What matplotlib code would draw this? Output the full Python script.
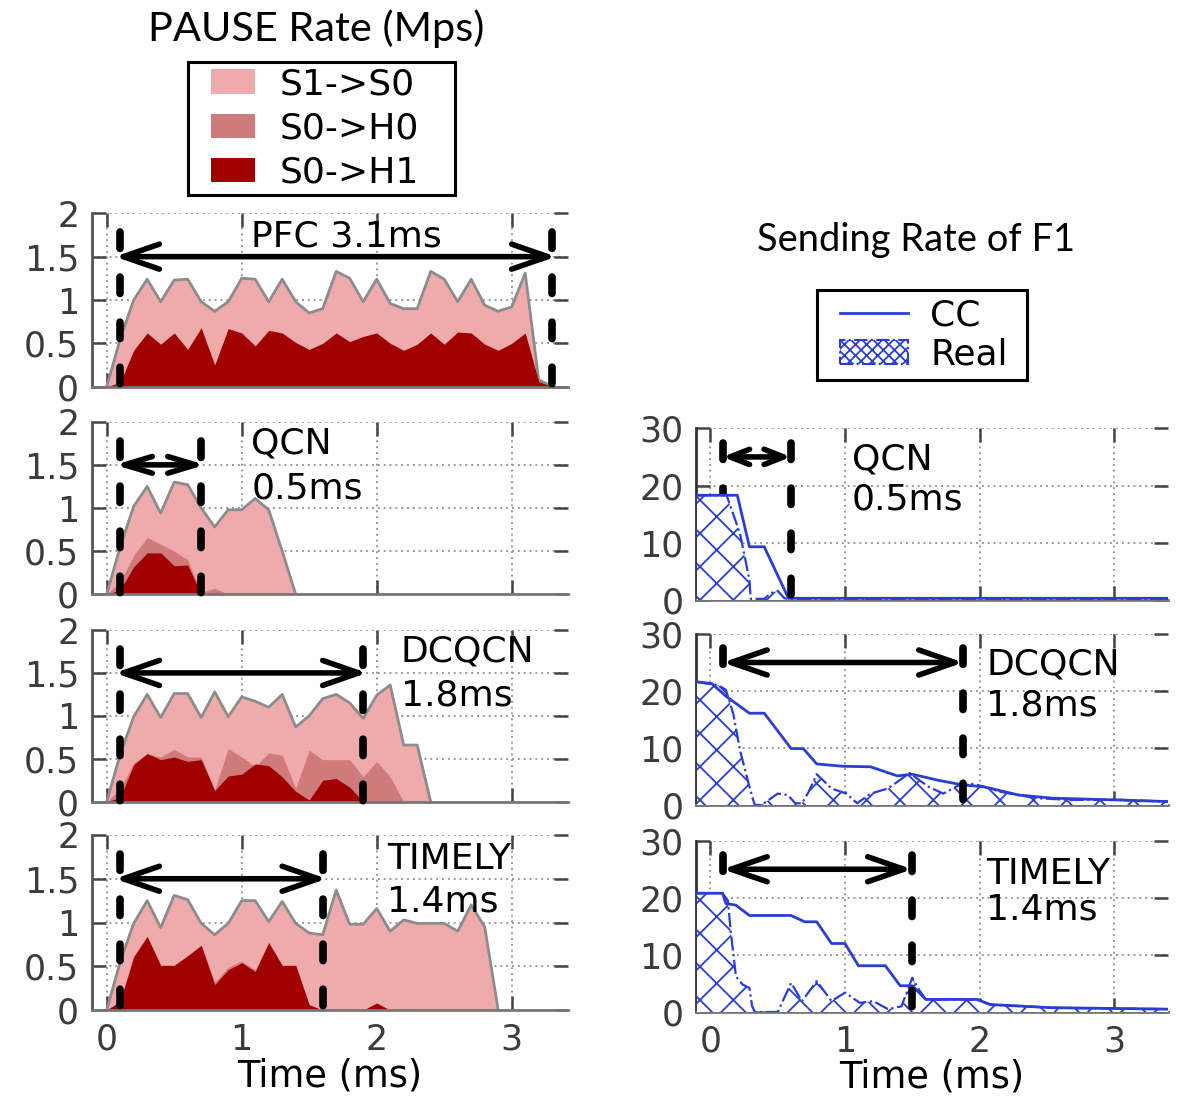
import matplotlib
matplotlib.use("Agg")
import matplotlib.pyplot as plt
from matplotlib.patches import Patch
from matplotlib.lines import Line2D

plt.rcParams['font.family'] = ['DejaVu Sans']
plt.rcParams['hatch.linewidth'] = 1.3

# ---------------- data: PAUSE rate (Mps), sampled every 0.1 ms ----------------
TIME = [0.0, 0.1, 0.2, 0.3, 0.4, 0.5, 0.6, 0.7, 0.8, 0.9,
        1.0, 1.1, 1.2, 1.3, 1.4, 1.5, 1.6, 1.7, 1.8, 1.9,
        2.0, 2.1, 2.2, 2.3, 2.4, 2.5, 2.6, 2.7, 2.8, 2.9,
        3.0, 3.1, 3.2, 3.3]

PFC_S1S0 = [0, 0.55, 1.0, 1.24, 0.98, 1.23, 1.24, 0.98, 0.87, 0.98,
            1.25, 1.24, 0.98, 1.24, 0.98, 0.85, 0.90, 1.33, 1.25, 0.98,
            1.24, 0.96, 0.90, 0.90, 1.33, 1.24, 0.98, 1.24, 0.94, 0.87,
            0.92, 1.31, 0.08, 0.0]
PFC_S0H0 = [0, 0, 0]
PFC_S0H1 = [0, 0.05, 0.42, 0.62, 0.49, 0.62, 0.43, 0.68, 0.25, 0.67,
            0.62, 0.47, 0.65, 0.62, 0.51, 0.43, 0.50, 0.62, 0.52, 0.58,
            0.62, 0.50, 0.42, 0.49, 0.62, 0.49, 0.63, 0.62, 0.49, 0.42,
            0.50, 0.62, 0.06, 0.0]

QCN_S1S0 = [0, 0.55, 1.02, 1.25, 0.94, 1.30, 1.27, 1.00, 0.78, 0.98,
            0.98, 1.11, 0.98, 0.50, 0.0]
QCN_S0H0 = [0, 0.15, 0.45, 0.66, 0.58, 0.50, 0.40, 0.02, 0.07, 0.0]
QCN_S0H1 = [0, 0.05, 0.32, 0.48, 0.48, 0.33, 0.34, 0.0]

DCQCN_S1S0 = [0, 0.55, 0.99, 1.25, 0.98, 1.26, 1.26, 0.98, 1.28, 0.99,
              1.22, 1.17, 1.10, 1.25, 0.87, 1.00, 1.20, 1.25, 1.15, 0.97,
              1.24, 1.36, 0.66, 0.66, 0.0]
DCQCN_S0H0 = [0, 0.15, 0.45, 0.56, 0.52, 0.61, 0.52, 0.52, 0.14, 0.62,
              0.52, 0.41, 0.57, 0.54, 0.16, 0.60, 0.49, 0.49, 0.49, 0.29,
              0.47, 0.29, 0.0]
DCQCN_S0H1 = [0, 0.05, 0.43, 0.56, 0.49, 0.52, 0.47, 0.49, 0.13, 0.30,
              0.32, 0.44, 0.42, 0.29, 0.12, 0.02, 0.25, 0.27, 0.17, 0.0]

TIMELY_S1S0 = [0, 0.55, 0.99, 1.25, 0.94, 1.31, 1.26, 0.99, 0.86, 0.99,
               1.25, 1.25, 1.01, 1.24, 0.99, 0.88, 0.86, 1.37, 0.98, 0.98,
               1.16, 0.90, 1.03, 0.99, 0.99, 0.99, 0.90, 1.20, 0.95, 0.0]
TIMELY_S0H0 = [0, 0.10, 0.61, 0.84, 0.51, 0.51, 0.62, 0.74, 0.32, 0.49,
               0.56, 0.46, 0.77, 0.51, 0.51, 0.06, 0.0]
TIMELY_S0H1 = [0, 0.10, 0.61, 0.84, 0.51, 0.51, 0.62, 0.74, 0.29, 0.46,
               0.54, 0.44, 0.77, 0.51, 0.51, 0.06, 0.0, 0.0, 0.0, 0.0,
               0.08, 0.0]

# pause durations (ms): start / end of the marked interval
PFC_SPAN = [0.1, 3.3]
QCN_SPAN = [0.1, 0.7]
DCQCN_SPAN = [0.1, 1.9]
TIMELY_SPAN = [0.1, 1.6]

# ---------------- data: sending rate of F1 (Gbps) ----------------
QCN_CC_T = [-0.1, 0.2, 0.29, 0.4, 0.58, 3.4]
QCN_CC_V = [18.3, 18.3, 9.3, 9.3, 0.3, 0.3]
QCN_REAL_T = [-0.1, 0.12, 0.15, 0.22, 0.26, 0.29, 0.30, 0.40, 0.45, 0.50, 0.55, 0.58, 3.4]
QCN_REAL_V = [18.3, 18.3, 16.3, 11.6, 7.0, 3.5, 0.2, 0.2, 1.2, 1.6, 0.3, 0.2, 0.2]

DCQCN_CC_T = [-0.1, 0.01, 0.115, 0.29, 0.40, 0.60, 0.69, 0.79, 0.98, 1.19,
              1.39, 1.50, 1.70, 1.88, 2.03, 2.29, 2.54, 3.0, 3.4]
DCQCN_CC_V = [21.6, 21.3, 19.1, 16.1, 16.1, 9.9, 9.9, 7.2, 6.8, 6.7,
              5.1, 5.4, 4.3, 3.5, 3.2, 1.75, 1.2, 0.9, 0.6]
DCQCN_REAL_T = [-0.1, 0.06, 0.115, 0.17, 0.22, 0.27, 0.31, 0.33, 0.38, 0.50,
                0.575, 0.63, 0.68, 0.73, 0.79, 0.90, 1.01, 1.09, 1.19, 1.32,
                1.48, 1.62, 1.73, 1.85, 1.96, 2.16, 2.42, 2.67, 3.06, 3.4]
DCQCN_REAL_V = [21.6, 21.0, 20.2, 16.0, 9.6, 5.0, 1.5, 0.0, 0.0, 2.0,
                1.75, 0.3, 0.3, 2.3, 5.4, 2.9, 2.0, 0.3, 2.0, 2.9,
                5.6, 3.2, 2.0, 3.5, 3.7, 2.3, 1.2, 0.9, 0.9, 0.6]

TIMELY_CC_T = [-0.1, 0.09, 0.115, 0.19, 0.29, 0.60, 0.70, 0.79, 0.90, 1.00,
               1.10, 1.30, 1.41, 1.50, 1.60, 1.98, 2.08, 2.54, 3.4]
TIMELY_CC_V = [20.8, 20.8, 19.0, 18.7, 16.9, 16.9, 15.8, 15.8, 12.0, 12.0,
               8.1, 8.1, 4.6, 4.6, 2.2, 2.2, 1.3, 0.75, 0.5]
TIMELY_REAL_T = [-0.1, 0.09, 0.13, 0.15, 0.19, 0.24, 0.29, 0.31, 0.33, 0.50,
                 0.60, 0.68, 0.79, 0.90, 1.00, 1.11, 1.21, 1.32, 1.42, 1.50,
                 1.55, 1.60, 1.98, 2.08, 2.54, 3.4]
TIMELY_REAL_V = [20.8, 20.8, 19.5, 14.3, 6.2, 4.8, 4.2, 1.0, 0.0, 0.0,
                 5.1, 1.9, 5.4, 1.9, 3.4, 1.6, 1.9, 0.5, 1.0, 6.0,
                 3.9, 2.2, 2.2, 1.3, 0.75, 0.5]

F1_QCN_SPAN = [0.09, 0.6]
F1_DCQCN_SPAN = [0.09, 1.88]
F1_TIMELY_SPAN = [0.09, 1.5]

PAUSE_YTICKS = [0, 0.5, 1, 1.5, 2]
PAUSE_YLABELS = ['0', '0.5', '1', '1.5', '2']
RATE_YTICKS = [0, 10, 20, 30]
XTICKS = [0, 1, 2, 3]

# ---------------- styles ----------------
C_LIGHT = '#EFABAB'
C_MID = '#D07B7B'
C_DARK = '#A00000'
C_EDGE = '#8C8C8C'
BLUE = '#2A3ED4'
TICK_FS = 25
ANN_FS = 26

W, H = 1180, 1098
fig = plt.figure(figsize=(W / 100, H / 100), dpi=100)


def fx(px):
    return px / W


def fy(py):
    return 1 - py / H


def style_axes(ax, spine_col):
    for s in ['top', 'right']:
        ax.spines[s].set_visible(False)
    ax.spines['left'].set_color(spine_col)
    ax.spines['left'].set_linewidth(2.0)
    ax.spines['bottom'].set_color('#777777')
    ax.spines['bottom'].set_linewidth(2.0)
    ax.tick_params(direction='in', length=10, width=1.8, color='#444444',
                   top=True, right=True, labelsize=TICK_FS,
                   labelcolor='#3c3c3c', pad=9)
    ax.grid(True, color='#9a9a9a', lw=1.4, ls=(0, (1, 2)))
    ax.set_axisbelow(True)
    ax.set_xticks(XTICKS)


def dashed(ax, x, top, z=4):
    ax.plot([x, x], [top, 0], color='k', lw=5.5, ls=(0, (2.15, 3.75)),
            dash_capstyle='round', solid_capstyle='round', zorder=z, clip_on=False)


def arrow(ax, x0, x1, y, hl, hw, lw=4):
    ax.annotate('', xy=(x1, y), xytext=(x0, y),
                arrowprops=dict(arrowstyle=f'<->,head_length={hl},head_width={hw}',
                                lw=lw, color='k', shrinkA=0, shrinkB=0,
                                mutation_scale=10),
                zorder=6)


# ---------------- left column: PAUSE rate ----------------
left_boxes = [(213.3, 386.7), (421.7, 594.3), (630.0, 801.7), (835.0, 1010.0)]
pause_sets = [
    (PFC_S1S0, PFC_S0H0, PFC_S0H1, PFC_SPAN, 2.6, 0.9),
    (QCN_S1S0, QCN_S0H0, QCN_S0H1, QCN_SPAN, 2.0, 0.6),
    (DCQCN_S1S0, DCQCN_S0H0, DCQCN_S0H1, DCQCN_SPAN, 2.6, 0.9),
    (TIMELY_S1S0, TIMELY_S0H0, TIMELY_S0H1, TIMELY_SPAN, 2.6, 0.9),
]
left_axes = []
for (top, bot), (s1, s2, s3, span, hl, hw) in zip(left_boxes, pause_sets):
    ax = fig.add_axes([fx(91.7), fy(bot), fx(568 - 91.7), (bot - top) / H])
    style_axes(ax, '#555555')
    ax.fill_between(TIME[:len(s1)], 0, s1, color=C_LIGHT, lw=0, zorder=2)
    ax.plot(TIME[:len(s1)], s1, color=C_EDGE, lw=2.0, zorder=2.2)
    ax.fill_between(TIME[:len(s2)], 0, s2, color=C_MID, lw=0, zorder=2.3)
    ax.fill_between(TIME[:len(s3)], 0, s3, color=C_DARK, lw=0, zorder=2.4)
    for x in span:
        dashed(ax, x, 1.78)
    arrow(ax, span[0] - 0.04, span[1] + 0.03, 1.5, hl, hw)
    ax.set_xlim(-0.111, 3.417)
    ax.set_ylim(0, 2)
    ax.set_yticks(PAUSE_YTICKS)
    ax.set_yticklabels(PAUSE_YLABELS)
    left_axes.append(ax)

for ax in left_axes[:-1]:
    ax.set_xticklabels([])
left_axes[-1].set_xlabel('Time (ms)', fontsize=26.5, labelpad=1)

left_axes[0].text(1.07, 1.73, 'PFC 3.1ms', fontsize=ANN_FS, ha='left', va='center', zorder=7)
left_axes[1].text(1.07, 1.75, 'QCN', fontsize=ANN_FS, ha='left', va='center', zorder=7)
left_axes[1].text(1.07, 1.23, '0.5ms', fontsize=ANN_FS, ha='left', va='center', zorder=7)
left_axes[2].text(2.18, 1.75, 'DCQCN', fontsize=ANN_FS, ha='left', va='center', zorder=7)
left_axes[2].text(2.18, 1.24, '1.8ms', fontsize=ANN_FS, ha='left', va='center', zorder=7)
left_axes[3].text(2.08, 1.73, 'TIMELY', fontsize=ANN_FS, ha='left', va='center', zorder=7)
left_axes[3].text(2.08, 1.24, '1.4ms', fontsize=ANN_FS, ha='left', va='center', zorder=7)

# ---------------- right column: sending rate ----------------
right_boxes = [(428.3, 600.0), (634.0, 805.0), (840.7, 1012.0)]
rate_sets = [
    (QCN_CC_T, QCN_CC_V, QCN_REAL_T, QCN_REAL_V, F1_QCN_SPAN, 1.4, 0.55),
    (DCQCN_CC_T, DCQCN_CC_V, DCQCN_REAL_T, DCQCN_REAL_V, F1_DCQCN_SPAN, 2.6, 0.9),
    (TIMELY_CC_T, TIMELY_CC_V, TIMELY_REAL_T, TIMELY_REAL_V, F1_TIMELY_SPAN, 2.6, 0.9),
]
right_axes = []
for (top, bot), (ct, cv, rt, rv, span, hl, hw) in zip(right_boxes, rate_sets):
    ax = fig.add_axes([fx(696), fy(bot), fx(1168 - 696), (bot - top) / H])
    style_axes(ax, '#333333')
    dashed(ax, span[0], 27.5, z=2.5)
    ax.fill_between(rt, 0, rv, facecolor='white', edgecolor=BLUE, hatch='x',
                    lw=0, zorder=3)
    ax.plot(rt, rv, color=BLUE, lw=1.6, ls='-.', zorder=3.2)
    ax.plot(ct, cv, color=BLUE, lw=2.0, zorder=3.5)
    dashed(ax, span[1], 27.5, z=4)
    arrow(ax, span[0], span[1], 25, hl, hw)
    ax.set_xlim(-0.107, 3.40)
    ax.set_ylim(0, 30)
    ax.set_yticks(RATE_YTICKS)
    right_axes.append(ax)

for ax in right_axes[:-1]:
    ax.set_xticklabels([])
right_axes[-1].set_xlabel('Time (ms)', fontsize=26.5, labelpad=0)

right_axes[0].text(1.05, 24.5, 'QCN', fontsize=ANN_FS, ha='left', va='center', zorder=7)
right_axes[0].text(1.05, 17.6, '0.5ms', fontsize=ANN_FS, ha='left', va='center', zorder=7)
right_axes[1].text(2.05, 24.6, 'DCQCN', fontsize=ANN_FS, ha='left', va='center', zorder=7)
right_axes[1].text(2.05, 17.5, '1.8ms', fontsize=ANN_FS, ha='left', va='center', zorder=7)
right_axes[2].text(2.05, 24.2, 'TIMELY', fontsize=ANN_FS, ha='left', va='center', zorder=7)
right_axes[2].text(2.05, 18.0, '1.4ms', fontsize=ANN_FS, ha='left', va='center', zorder=7)

# ---------------- legends ----------------
lax = fig.add_axes([fx(188), fy(195), fx(455 - 188), (195 - 62) / H])
lax.set_xticks([]); lax.set_yticks([])
for s in lax.spines.values():
    s.set_linewidth(2.2); s.set_color('black')
lax.legend(handles=[Patch(facecolor=C_LIGHT, edgecolor='none', label='S1->S0'),
                    Patch(facecolor=C_MID, edgecolor='none', label='S0->H0'),
                    Patch(facecolor=C_DARK, edgecolor='none', label='S0->H1')],
           loc='center left', bbox_to_anchor=(0.086, 0.5), frameon=False,
           fontsize=26, handlelength=1.22, handleheight=0.67, handletextpad=0.67,
           labelspacing=0.28, borderpad=0, borderaxespad=0)

rax = fig.add_axes([fx(817), fy(380), fx(1027 - 817), (380 - 290) / H])
rax.set_xticks([]); rax.set_yticks([])
for s in rax.spines.values():
    s.set_linewidth(2.2); s.set_color('black')
rax.legend(handles=[Line2D([], [], color=BLUE, lw=2.0, label='CC'),
                    Patch(facecolor='white', edgecolor=BLUE, hatch='xxx', ls='-.',
                          lw=1.5, label='Real')],
           loc='center left', bbox_to_anchor=(0.11, 0.5), frameon=False,
           fontsize=26, handlelength=1.88, handleheight=0.64, handletextpad=0.62,
           labelspacing=0.16, borderpad=0, borderaxespad=0)

# ---------------- titles ----------------
t1 = fig.text(fx(316), fy(29), 'PAUSE Rate (Mps)', family=['Lato', 'DejaVu Sans'],
              fontsize=28, ha='center', va='center')
t2 = fig.text(fx(916), fy(240), 'Sending Rate of F1', family=['Lato', 'DejaVu Sans'],
              fontsize=28, ha='center', va='center')
fig.canvas.draw()
r = fig.canvas.get_renderer()
for t, target in [(t1, 336), (t2, 318)]:
    w = t.get_window_extent(renderer=r).width
    t.set_fontsize(t.get_fontsize() * target / w)

fig.savefig('out.png', dpi=100)
